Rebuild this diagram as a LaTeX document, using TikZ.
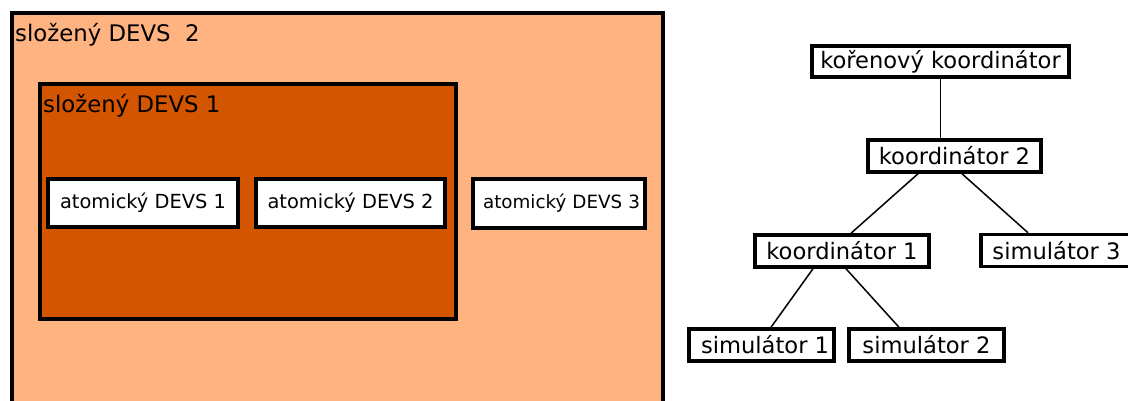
\documentclass[tikz,border=0pt]{standalone}
\usepackage{fontspec}
\setmainfont{DejaVu Sans}
\usepackage{xcolor}
\usepackage{tikz}
\usetikzlibrary{positioning}
\definecolor{cOuter}{RGB}{255,179,128}
\definecolor{cInner}{RGB}{212,85,0}
\tikzset{
  composite/.style={draw=black, line width=4pt, inner sep=0pt},
  atom/.style={draw=black, fill=white, line width=3.5pt, inner sep=0pt,
               minimum height=48pt, font=\fontsize{19.4}{23}\selectfont},
  tnode/.style={draw=black, fill=white, line width=3.5pt, inner sep=0pt,
                minimum height=32pt, font=\fontsize{22.6}{27}\selectfont},
  ttl/.style={anchor=base west, inner sep=0pt, font=\fontsize{22.8}{27}\selectfont},
  edge/.style={line width=1.5pt},
}

\begin{document}
\begin{tikzpicture}[x=1pt, y=-1pt]
  \useasboundingbox (0,0) rectangle (1128,401);
  % nested composite models
  \node[composite, fill=cOuter, minimum width=651pt, minimum height=407pt] (cdevs2) at (337.5,216.5) {};
  \node[ttl] (cdevs2lbl) at (15,42) {složený DEVS\ \ 2};
  \node[composite, fill=cInner, line width=3.5pt, minimum width=416pt, minimum height=235pt] (cdevs1) at (248,201.5) {};
  \node[ttl] (cdevs1lbl) at (43,113) {složený DEVS 1};
  \node[atom, minimum width=190pt] (adevs1) at (143,203) {atomický DEVS 1};
  \node[atom, minimum width=189pt] (adevs2) at (350.5,203) {atomický DEVS 2};
  \node[atom, minimum width=172pt, minimum height=49pt, text width=162pt, align=right,
        font=\fontsize{18.3}{22}\selectfont] (adevs3) at (559,203.5) {atomický DEVS 3};

  % simulator hierarchy
  \node[tnode, minimum width=257pt, minimum height=31pt] (root) at (940.5,61.5) {kořenový koordinátor};
  \node[tnode, minimum width=173pt] (koord2) at (954.5,156) {koordinátor 2};
  \node[tnode, minimum width=174pt] (koord1) at (842,251) {koordinátor 1};
  \node[tnode, minimum width=151pt] (sim3) at (1056.5,250.5) {simulátor 3};
  \node[tnode, minimum width=145pt] (sim1) at (761.5,345) {\ simulátor 1};
  \node[tnode, minimum width=155pt] (sim2) at (926.5,345) {simulátor 2};

  \draw[edge] (root.south) -- (root.south |- koord2.north);
  \draw[edge] ([xshift=-36.5pt]koord2.south) -- ([xshift=9pt]koord1.north);
  \draw[edge] ([xshift=7.5pt]koord2.south) -- ([xshift=-28.5pt]sim3.north);
  \draw[edge] ([xshift=-29pt]koord1.south) -- ([xshift=9.5pt]sim1.north);
  \draw[edge] ([xshift=4pt]koord1.south) -- ([xshift=-27.5pt]sim2.north);
\end{tikzpicture}
\end{document}
